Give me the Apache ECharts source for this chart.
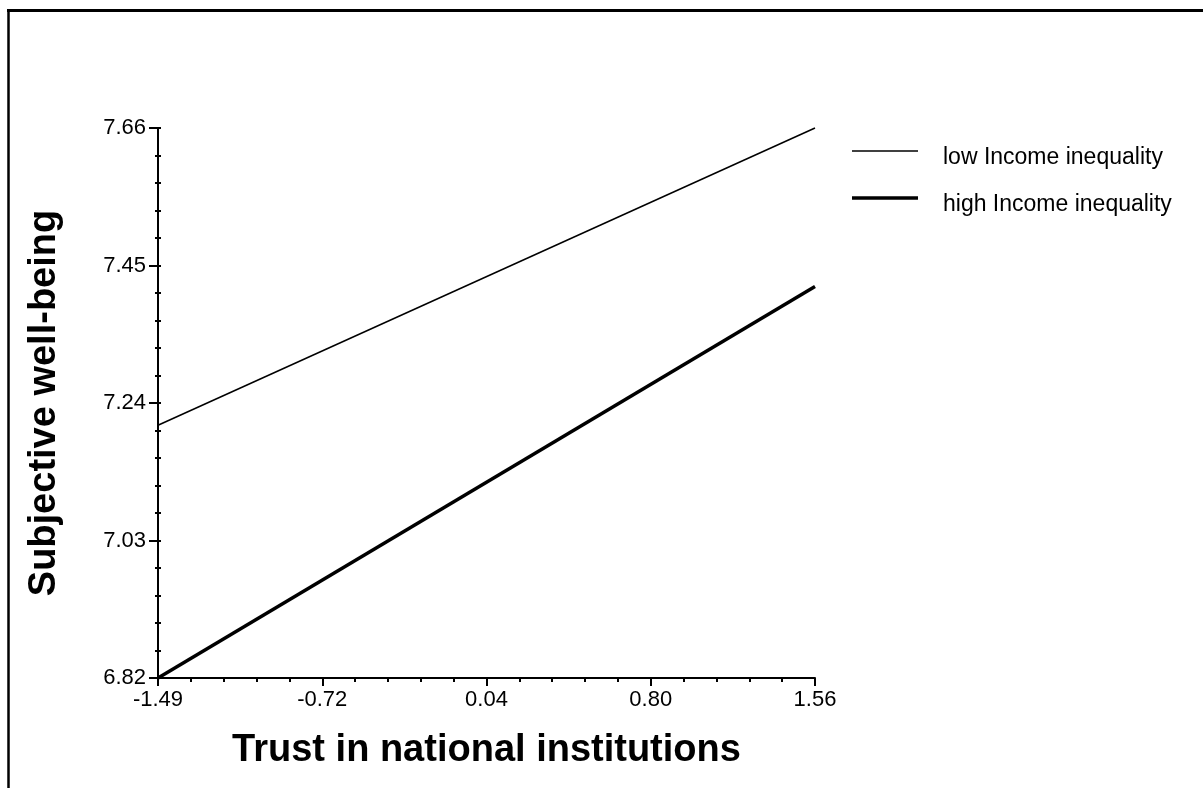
<!DOCTYPE html>
<html>
<head>
<meta charset="utf-8">
<title>Subjective well-being by trust in national institutions</title>
<script src="https://cdn.jsdelivr.net/npm/echarts@6/dist/echarts.min.js"></script>
<style>
  html, body { margin: 0; padding: 0; background: #ffffff; }
  #chart { width: 1203px; height: 788px; }
</style>
</head>
<body>
<div id="chart"></div>
<script>
// Axis ranges and tick labels
const xRange = [-1.49, 1.56];
const yRange = [6.82, 7.66];
const xTickLabels = ['-1.49', '-0.72', '0.04', '0.80', '1.56'];
const yTickLabels = ['6.82', '7.03', '7.24', '7.45', '7.66'];

// Predicted well-being at the ends of the trust range
const trustEnds = [-1.49, 1.56];
const lowInequality = [7.206, 7.66];
const highInequality = [6.82, 7.418];

const seriesNames = ['low Income inequality', 'high Income inequality'];
const lineWidths = [1.5, 3.5];

// evenly spaced positions between min and max
function steps(range, n) {
  const out = [];
  for (let i = 0; i <= n; i++) out.push(range[0] + (range[1] - range[0]) * i / n);
  return out;
}
const xMajor = steps(xRange, 4);
const xMinor = steps(xRange, 20);
const yMajor = steps(yRange, 4);
const yMinor = steps(yRange, 20);

function labelFor(ticks, labels) {
  return function (v) {
    let best = 0;
    for (let i = 1; i < ticks.length; i++) {
      if (Math.abs(ticks[i] - v) < Math.abs(ticks[best] - v)) best = i;
    }
    return labels[best];
  };
}

const FONT = '"Liberation Sans", Arial, Helvetica, sans-serif';
const black = '#000000';

// one legend box per series so each key line keeps its own thickness;
// an empty spacer line above the name drops the label a little below its key line
function legendFor(i, top) {
  return {
    orient: 'vertical',
    left: 852,
    top: top,
    padding: 0,
    itemWidth: 66,
    itemHeight: lineWidths[i],
    icon: 'rect',
    data: [seriesNames[i]],
    itemStyle: { color: black },
    formatter: '{gap| }\n{name}',
    textStyle: {
      fontFamily: FONT, fontSize: 23, color: black, lineHeight: 26, padding: [0, 0, 0, 20],
      rich: { gap: { fontSize: 1, lineHeight: 14 } }
    }
  };
}

const chart = echarts.init(document.getElementById('chart'), null, { renderer: 'canvas' });

chart.setOption({
  animation: false,
  backgroundColor: '#ffffff',
  textStyle: { fontFamily: FONT, color: black },
  grid: { left: 158, right: 388, top: 128, bottom: 110, containLabel: false },
  legend: [legendFor(0, 131), legendFor(1, 178)],
  xAxis: [
    {
      type: 'value',
      min: xRange[0],
      max: xRange[1],
      name: 'Trust in national institutions',
      nameLocation: 'middle',
      nameGap: 54,
      nameTextStyle: { fontFamily: FONT, fontSize: 38, fontWeight: 'bold', color: black },
      axisLine: { show: true, onZero: false, lineStyle: { color: black, width: 2 } },
      axisTick: { show: true, customValues: xMajor, length: 8, lineStyle: { color: black, width: 2 } },
      axisLabel: {
        customValues: xMajor,
        formatter: labelFor(xMajor, xTickLabels),
        fontFamily: FONT, fontSize: 22, color: black, margin: 11
      },
      splitLine: { show: false }
    },
    {
      type: 'value',
      position: 'bottom',
      min: xRange[0],
      max: xRange[1],
      axisLine: { show: false, onZero: false },
      axisTick: { show: true, customValues: xMinor, length: 4, lineStyle: { color: black, width: 2 } },
      axisLabel: { show: false },
      splitLine: { show: false }
    }
  ],
  yAxis: [
    {
      type: 'value',
      min: yRange[0],
      max: yRange[1],
      name: 'Subjective well-being',
      nameLocation: 'middle',
      nameGap: 94,
      nameRotate: 90,
      nameTextStyle: { fontFamily: FONT, fontSize: 38, fontWeight: 'bold', color: black },
      axisLine: { show: true, onZero: false, lineStyle: { color: black, width: 2 } },
      axisTick: { show: true, customValues: yMajor, length: 9, lineStyle: { color: black, width: 2 } },
      axisLabel: {
        customValues: yMajor,
        formatter: labelFor(yMajor, yTickLabels),
        fontFamily: FONT, fontSize: 22, color: black, margin: 12
      },
      splitLine: { show: false }
    },
    {
      type: 'value',
      position: 'left',
      offset: -3,
      min: yRange[0],
      max: yRange[1],
      axisLine: { show: false, onZero: false },
      axisTick: { show: true, customValues: yMinor, length: 6, lineStyle: { color: black, width: 2 } },
      axisLabel: { show: false },
      splitLine: { show: false }
    }
  ],
  series: [
    {
      name: seriesNames[0],
      type: 'line',
      symbol: 'none',
      clip: false,
      lineStyle: { color: black, width: lineWidths[0] },
      itemStyle: { color: black },
      data: trustEnds.map((x, i) => [x, lowInequality[i]])
    },
    {
      name: seriesNames[1],
      type: 'line',
      symbol: 'none',
      clip: false,
      lineStyle: { color: black, width: lineWidths[1] },
      itemStyle: { color: black },
      data: trustEnds.map((x, i) => [x, highInequality[i]])
    }
  ],
  graphic: [
    { type: 'line', shape: { x1: 7, y1: 10.5, x2: 1203, y2: 10.5 }, style: { stroke: black, lineWidth: 3 } },
    { type: 'line', shape: { x1: 8.5, y1: 9, x2: 8.5, y2: 788 }, style: { stroke: black, lineWidth: 2.5 } }
  ]
});
</script>
</body>
</html>
